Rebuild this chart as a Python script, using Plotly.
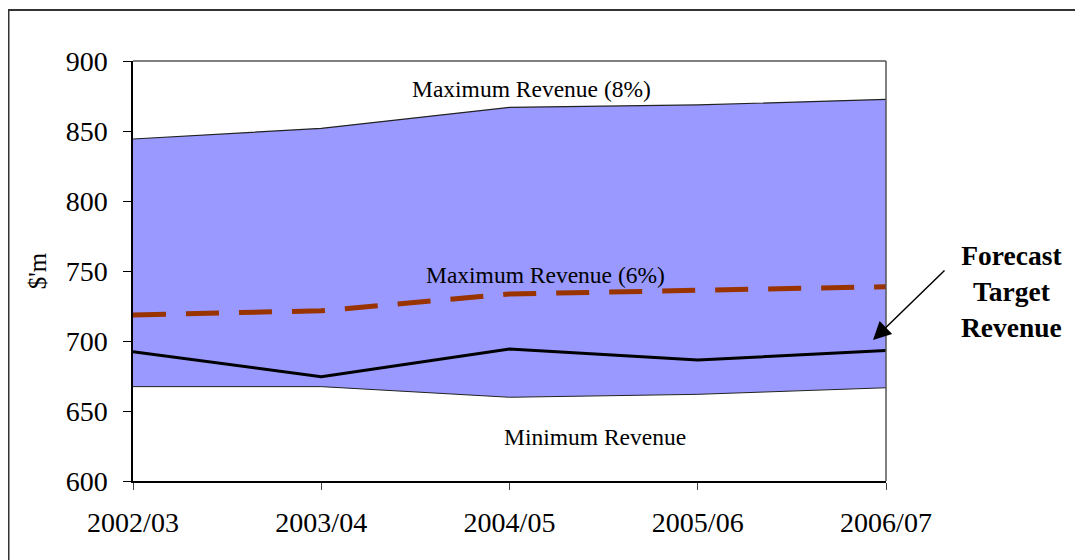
import plotly.graph_objects as go

years = ["2002/03", "2003/04", "2004/05", "2005/06", "2006/07"]
max8 = [844.3, 851.9, 866.9, 868.6, 872.6]
max6 = [718.6, 721.6, 733.6, 735.9, 738.8]
target = [692.4, 674.5, 694.3, 686.4, 693.3]
minimum = [667.4, 667.4, 659.8, 661.9, 666.6]
y_ticks = [600, 650, 700, 750, 800, 850, 900]

xs = list(range(len(years)))
FONT = "Liberation Serif, Times New Roman, serif"

fig = go.Figure()
fig.add_trace(go.Scatter(x=xs, y=minimum, mode="lines",
                         line=dict(color="#222222", width=1), hoverinfo="skip"))
fig.add_trace(go.Scatter(x=xs, y=max8, mode="lines", fill="tonexty",
                         fillcolor="#9999FF",
                         line=dict(color="#222222", width=1.2), hoverinfo="skip"))
fig.add_trace(go.Scatter(x=xs, y=max6, mode="lines",
                         line=dict(color="#993300", width=5, dash="33px,20px")))
fig.add_trace(go.Scatter(x=xs, y=target, mode="lines",
                         line=dict(color="#000000", width=3)))

OFF = 8  # page body margin
W, H = 1075, 552
L, R, T, B = 133 - OFF, 886 - OFF, 61 - OFF, 481 - OFF
def px(x): return (x - OFF - L) / (R - L)
def py(y): return (B - (y - OFF)) / (B - T)

fig.update_layout(
    width=W, height=H,
    margin=dict(l=L, r=W - R, t=T, b=H - B),
    paper_bgcolor="white", plot_bgcolor="white",
    showlegend=False,
    font=dict(family=FONT, color="black"),
    xaxis=dict(range=[0, 4], tickvals=xs, ticktext=years, showgrid=False,
               zeroline=False, showline=True, linecolor="black", linewidth=1.5,
               ticks="outside", ticklen=7, tickcolor="#444444",
               tickfont=dict(size=28, family=FONT), ticklabelstandoff=9),
    yaxis=dict(range=[600, 900], tickvals=y_ticks, showgrid=False,
               zeroline=False, showline=True, linecolor="black", linewidth=1.5,
               ticks="outside", ticklen=8, tickcolor="black",
               tickfont=dict(size=28, family=FONT), ticklabelstandoff=10,
               title=dict(text="$'m", font=dict(size=25, family=FONT), standoff=12)),
)

# plot-area top and right border
fig.add_shape(type="line", xref="paper", yref="paper", x0=0, x1=1, y0=1, y1=1,
              line=dict(color="#555555", width=1.5))
fig.add_shape(type="line", xref="paper", yref="paper", x0=1, x1=1, y0=0, y1=1,
              line=dict(color="#555555", width=1.5))
# outer frame (top and left)
fig.add_shape(type="line", xref="paper", yref="paper", x0=px(8), x1=px(1100),
              y0=py(10), y1=py(10), line=dict(color="#333333", width=2))
fig.add_shape(type="line", xref="paper", yref="paper", x0=px(8.5), x1=px(8.5),
              y0=py(10), y1=py(580), line=dict(color="#333333", width=2))

def label(text, x, y, size, **kw):
    fig.add_annotation(text=text, xref="paper", yref="paper", x=px(x), y=py(y),
                       xanchor="center", yanchor="middle", showarrow=False,
                       font=dict(size=size, family=FONT), **kw)

label("Maximum Revenue (8%)", 531, 89, 23.5)
label("Maximum Revenue (6%)", 545, 275, 23.5)
label("Minimum Revenue", 595, 437, 23.5)
label("<b>Forecast<br>Target<br>Revenue</b>", 1011, 291, 27.5, align="center")

fig.add_annotation(text="", xref="paper", yref="paper",
                   x=px(873), y=py(340), ax=946 - 873, ay=269 - 340,
                   showarrow=True, arrowhead=2, arrowsize=2.4, arrowwidth=1.5,
                   arrowcolor="black")

fig.write_html("out.html")
